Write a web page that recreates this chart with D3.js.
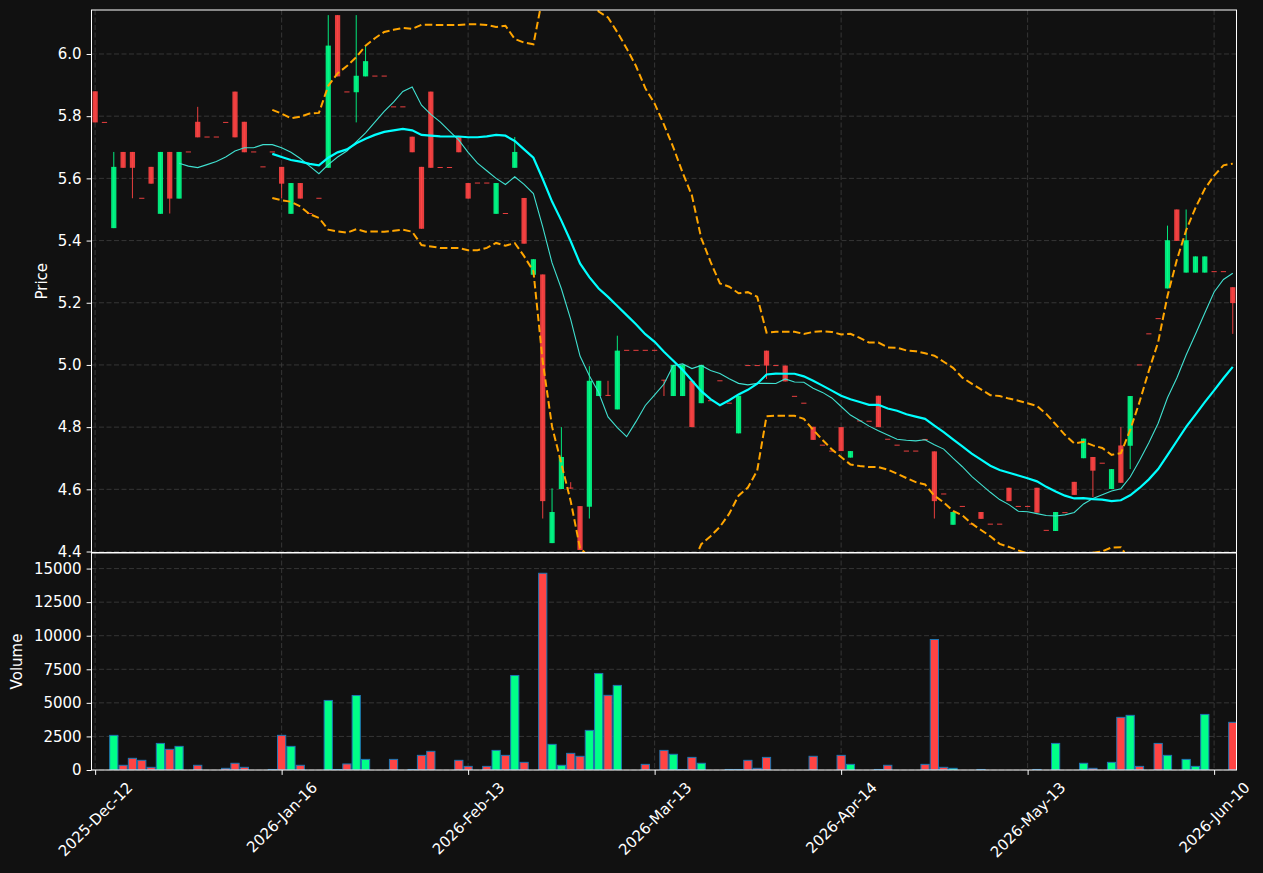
<!DOCTYPE html>
<html><head><meta charset="utf-8">
<script src="https://cdn.jsdelivr.net/npm/d3@7"></script>
<style>body{margin:0;background:#111111;}svg{display:block;}</style>
</head><body>
<svg id="chart" width="1263" height="873"></svg>
<script>
// ---- data ----
const opens = [5.88,5.78,5.44,5.685,5.685,5.536,5.637,5.486,5.685,5.535,
5.685,5.782,5.733,5.733,5.78,5.879,5.782,5.685,5.637,5.685,
5.637,5.486,5.585,5.487,5.536,5.634,6.125,5.878,5.877,5.928,
5.929,5.929,5.83,5.83,5.734,5.637,5.879,5.635,5.635,5.734,
5.585,5.585,5.585,5.486,5.487,5.634,5.537,5.29,5.291,4.427,
4.601,4.604,4.546,4.544,4.90,4.902,4.857,5.047,5.047,5.047,
5.047,4.951,4.90,4.90,4.949,4.877,4.885,4.949,4.877,4.78,
4.998,4.998,5.046,4.998,4.998,4.899,4.877,4.801,4.742,4.723,
4.80,4.702,4.82,4.819,4.901,4.761,4.742,4.723,4.723,4.762,
4.722,4.585,4.486,4.545,4.488,4.527,4.488,4.488,4.605,4.545,
4.545,4.605,4.468,4.466,4.525,4.624,4.70,4.704,4.684,4.601,
4.741,4.74,5.0,5.10,5.149,5.246,5.50,5.297,5.297,5.297,
5.30,5.30,5.25];
const highs = [5.88,5.78,5.685,5.685,5.685,5.536,5.637,5.685,5.685,5.685,
5.685,5.83,5.733,5.733,5.78,5.879,5.782,5.685,5.637,5.685,
5.637,5.585,5.585,5.487,5.536,6.125,6.125,5.878,6.125,6.026,
5.929,5.929,5.83,5.83,5.734,5.637,5.879,5.635,5.635,5.734,
5.585,5.585,5.585,5.585,5.487,5.733,5.537,5.34,5.291,4.603,
4.80,4.623,4.546,4.996,4.949,4.949,5.094,5.047,5.047,5.047,
5.047,4.951,5.0,5.0,4.949,5.0,4.885,4.949,4.877,4.901,
4.998,4.998,5.046,4.998,4.998,4.899,4.877,4.801,4.742,4.723,
4.80,4.723,4.82,4.819,4.901,4.761,4.742,4.723,4.723,4.762,
4.722,4.585,4.527,4.545,4.488,4.527,4.488,4.488,4.605,4.545,
4.545,4.605,4.468,4.527,4.525,4.624,4.763,4.704,4.684,4.665,
4.80,4.90,5.0,5.10,5.149,5.448,5.50,5.50,5.349,5.349,
5.30,5.30,5.25];
const lows = [5.78,5.78,5.44,5.634,5.536,5.536,5.583,5.486,5.487,5.535,
5.685,5.732,5.733,5.733,5.78,5.732,5.684,5.685,5.637,5.685,
5.536,5.486,5.535,5.487,5.536,5.634,5.928,5.878,5.78,5.928,
5.929,5.929,5.83,5.83,5.684,5.438,5.634,5.635,5.635,5.684,
5.535,5.585,5.585,5.486,5.487,5.634,5.39,5.29,4.506,4.427,
4.601,4.602,4.405,4.506,4.90,4.90,4.857,5.047,5.047,5.047,
5.047,4.90,4.90,4.90,4.80,4.877,4.885,4.949,4.877,4.78,
4.998,4.998,4.955,4.998,4.947,4.899,4.877,4.759,4.742,4.723,
4.723,4.702,4.82,4.819,4.80,4.761,4.742,4.723,4.723,4.758,
4.506,4.585,4.486,4.545,4.488,4.505,4.488,4.488,4.562,4.545,
4.545,4.525,4.468,4.466,4.525,4.582,4.70,4.575,4.684,4.601,
4.621,4.665,5.0,5.10,5.149,5.246,5.399,5.297,5.297,5.297,
5.30,5.30,5.10];
const closes = [5.78,5.78,5.637,5.634,5.634,5.536,5.583,5.685,5.535,5.685,
5.685,5.732,5.733,5.733,5.78,5.732,5.684,5.685,5.637,5.685,
5.583,5.585,5.535,5.487,5.536,6.027,5.928,5.878,5.93,5.977,
5.929,5.929,5.83,5.83,5.684,5.438,5.634,5.635,5.635,5.684,
5.535,5.585,5.585,5.585,5.487,5.685,5.39,5.34,4.562,4.527,
4.704,4.602,4.405,4.949,4.949,4.90,5.046,5.047,5.047,5.047,
5.047,4.949,5.0,5.0,4.80,5.0,4.885,4.949,4.877,4.901,
4.998,4.998,4.998,4.998,4.947,4.899,4.877,4.759,4.742,4.723,
4.723,4.723,4.82,4.819,4.80,4.761,4.742,4.723,4.723,4.758,
4.562,4.585,4.527,4.545,4.488,4.505,4.488,4.488,4.562,4.545,
4.545,4.525,4.468,4.527,4.525,4.582,4.763,4.66,4.684,4.665,
4.621,4.90,5.0,5.10,5.149,5.401,5.399,5.401,5.349,5.349,
5.30,5.30,5.199];
const volumes = [0,0,2580,350,870,720,200,1980,1540,1760,
0,350,0,0,125,500,200,0,0,40,
2580,1760,350,0,0,5180,40,450,5550,790,
0,0,790,0,40,1090,1390,0,0,720,
270,0,270,1460,1090,7040,570,0,14650,1910,
350,1240,1020,2950,7190,5560,6300,0,0,420,
0,1460,1170,40,940,500,0,0,40,40,
720,125,940,0,0,0,0,1020,0,0,
1090,420,0,0,40,350,0,0,0,420,
9720,200,125,0,0,40,0,0,0,0,
0,40,0,1980,0,0,500,125,0,570,
3920,4070,270,0,1980,1090,0,790,270,4140,
0,0,3550];
const tickIndex = [0,20,40,60,80,100,120];
const tickLabels = ["2025-Dec-12","2026-Jan-16","2026-Feb-13","2026-Mar-13","2026-Apr-14","2026-May-13","2026-Jun-10"];
const priceTicks = [4.4,4.6,4.8,5.0,5.2,5.4,5.6,5.8,6.0];
const volumeTicks = [0,2500,5000,7500,10000,12500,15000];

// ---- indicators derived from closes ----
function sma(arr,n){const out=[];for(let i=n-1;i<arr.length;i++){let s=0;for(let k=i-n+1;k<=i;k++)s+=arr[k];out.push({i:i,v:s/n});}return out;}
function bands(arr,n,m){const up=[],lo=[];for(let i=n-1;i<arr.length;i++){const w=arr.slice(i-n+1,i+1);const mu=d3.mean(w);const sd=Math.sqrt(d3.mean(w,d=>(d-mu)*(d-mu)));up.push({i:i,v:mu+m*sd});lo.push({i:i,v:mu-m*sd});}return [up,lo];}
const ma10 = sma(closes,10), ma20 = sma(closes,20);
const [bbUp,bbLo] = bands(closes,20,2);

// ---- layout ----
const W=1263,H=873;
const L=91.5,R=1236.5,PT=10,PB=552.5,VT=553,VB=770;
const FONT='"DejaVu Sans", sans-serif';
const FS=15;
const svg=d3.select('#chart');
svg.append('rect').attr('width',W).attr('height',H).attr('fill','#111111');
const x=d3.scaleLinear().domain([-0.39,122.4]).range([L,R]);
const yP=d3.scaleLinear().domain([4.3968,6.1415]).range([PB,PT]);
const yV=d3.scaleLinear().domain([0,16160]).range([VB,VT]);
const defs=svg.append('defs');
defs.append('clipPath').attr('id','cp').append('rect').attr('x',L).attr('y',PT).attr('width',R-L).attr('height',PB-PT);
defs.append('clipPath').attr('id','cv').append('rect').attr('x',L).attr('y',VT).attr('width',R-L).attr('height',VB-VT);

const gridColor='#3a3a3a';
const grid=svg.append('g').attr('stroke',gridColor).attr('stroke-width',0.9).attr('stroke-dasharray','5,2.5');
priceTicks.forEach(t=>grid.append('line').attr('x1',L).attr('x2',R).attr('y1',yP(t)).attr('y2',yP(t)));
volumeTicks.forEach(t=>grid.append('line').attr('x1',L).attr('x2',R).attr('y1',yV(t)).attr('y2',yV(t)));
tickIndex.forEach(t=>{grid.append('line').attr('x1',x(t)).attr('x2',x(t)).attr('y1',PT).attr('y2',PB);
  grid.append('line').attr('x1',x(t)).attr('x2',x(t)).attr('y1',VT).attr('y2',VB);});

const idx=d3.range(closes.length);
const step=x(1)-x(0);
const upC='#00ff88',dnC='#ff4444';
const isUp=i=>closes[i]>opens[i];

// volume bars
const gv=svg.append('g').attr('clip-path','url(#cv)');
const bw=step*0.88;
gv.selectAll('rect').data(idx.filter(i=>volumes[i]>0)).enter().append('rect')
  .attr('x',i=>x(i)-bw/2).attr('width',bw)
  .attr('y',i=>yV(volumes[i])).attr('height',i=>Math.max(0,VB-yV(volumes[i])))
  .attr('fill',i=>isUp(i)?upC:dnC).attr('stroke','#1f77b4').attr('stroke-width',1);

// candles
const gc=svg.append('g').attr('clip-path','url(#cp)');
const cw=step*0.56;
gc.selectAll('line.w').data(idx).enter().append('line')
  .attr('x1',i=>x(i)).attr('x2',i=>x(i)).attr('y1',i=>yP(highs[i])).attr('y2',i=>yP(lows[i]))
  .attr('stroke',i=>isUp(i)?upC:dnC).attr('stroke-opacity',0.9).attr('stroke-width',1);
gc.selectAll('rect.b').data(idx).enter().append('rect')
  .attr('x',i=>x(i)-cw/2).attr('width',cw)
  .attr('y',i=>Math.min(yP(opens[i]),yP(closes[i]))-(Math.abs(yP(opens[i])-yP(closes[i]))<1?0.5:0))
  .attr('height',i=>Math.max(1,Math.abs(yP(opens[i])-yP(closes[i]))))
  .attr('fill',i=>isUp(i)?upC:dnC).attr('fill-opacity',0.9);

// indicator lines
const gl=svg.append('g').attr('clip-path','url(#cp)').attr('fill','none');
const line=d3.line().x(d=>x(d.i)).y(d=>yP(d.v));
gl.append('path').datum(ma10).attr('d',line).attr('stroke','#40e0d0').attr('stroke-width',1.1);
gl.append('path').datum(ma20).attr('d',line).attr('stroke','#00ffff').attr('stroke-width',2.2);
gl.append('path').datum(bbUp).attr('d',line).attr('stroke','#ffa500').attr('stroke-width',2).attr('stroke-dasharray','7.5,3.5');
gl.append('path').datum(bbLo).attr('d',line).attr('stroke','#ffa500').attr('stroke-width',2).attr('stroke-dasharray','7.5,3.5');

// spines
svg.append('rect').attr('x',L).attr('y',PT).attr('width',R-L).attr('height',PB-PT).attr('fill','none').attr('stroke','#ffffff').attr('stroke-width',1);
svg.append('rect').attr('x',L).attr('y',VT).attr('width',R-L).attr('height',VB-VT).attr('fill','none').attr('stroke','#ffffff').attr('stroke-width',1);

// axes
function styleAxis(g){g.select('.domain').remove();g.selectAll('.tick line').attr('stroke','#ffffff');
  g.selectAll('.tick text').attr('fill','#ffffff').style('font-family',FONT).style('font-size',FS+'px');}
svg.append('g').attr('transform',`translate(${L},0)`)
  .call(d3.axisLeft(yP).tickValues(priceTicks).tickFormat(d3.format('.1f')).tickSize(4.9).tickPadding(5)).call(styleAxis);
svg.append('g').attr('transform',`translate(${L},0)`)
  .call(d3.axisLeft(yV).tickValues(volumeTicks).tickFormat(d3.format('d')).tickSize(4.9).tickPadding(5)).call(styleAxis);
const gx=svg.append('g').attr('transform',`translate(0,${VB})`)
  .call(d3.axisBottom(x).tickValues(tickIndex).tickFormat((d,k)=>tickLabels[k]).tickSize(4.9).tickPadding(5)).call(styleAxis);
gx.selectAll('.tick text').each(function(d){
  const t=d3.select(this);
  const len=this.getComputedTextLength();
  const cy=9+(len+17)*0.3536;
  t.attr('y',cy).attr('dy',null).attr('x',0).attr('text-anchor','middle').attr('dominant-baseline','central')
   .attr('transform',`rotate(-45,0,${cy})`);
});

// axis labels
svg.append('text').attr('transform',`translate(42,${(PT+PB)/2}) rotate(-90)`).attr('text-anchor','middle').attr('dominant-baseline','central')
  .attr('fill','#ffffff').style('font-family',FONT).style('font-size',FS+'px').text('Price');
svg.append('text').attr('transform',`translate(17,${(VT+VB)/2}) rotate(-90)`).attr('text-anchor','middle').attr('dominant-baseline','central')
  .attr('fill','#ffffff').style('font-family',FONT).style('font-size',FS+'px').text('Volume');
</script>
</body></html>
